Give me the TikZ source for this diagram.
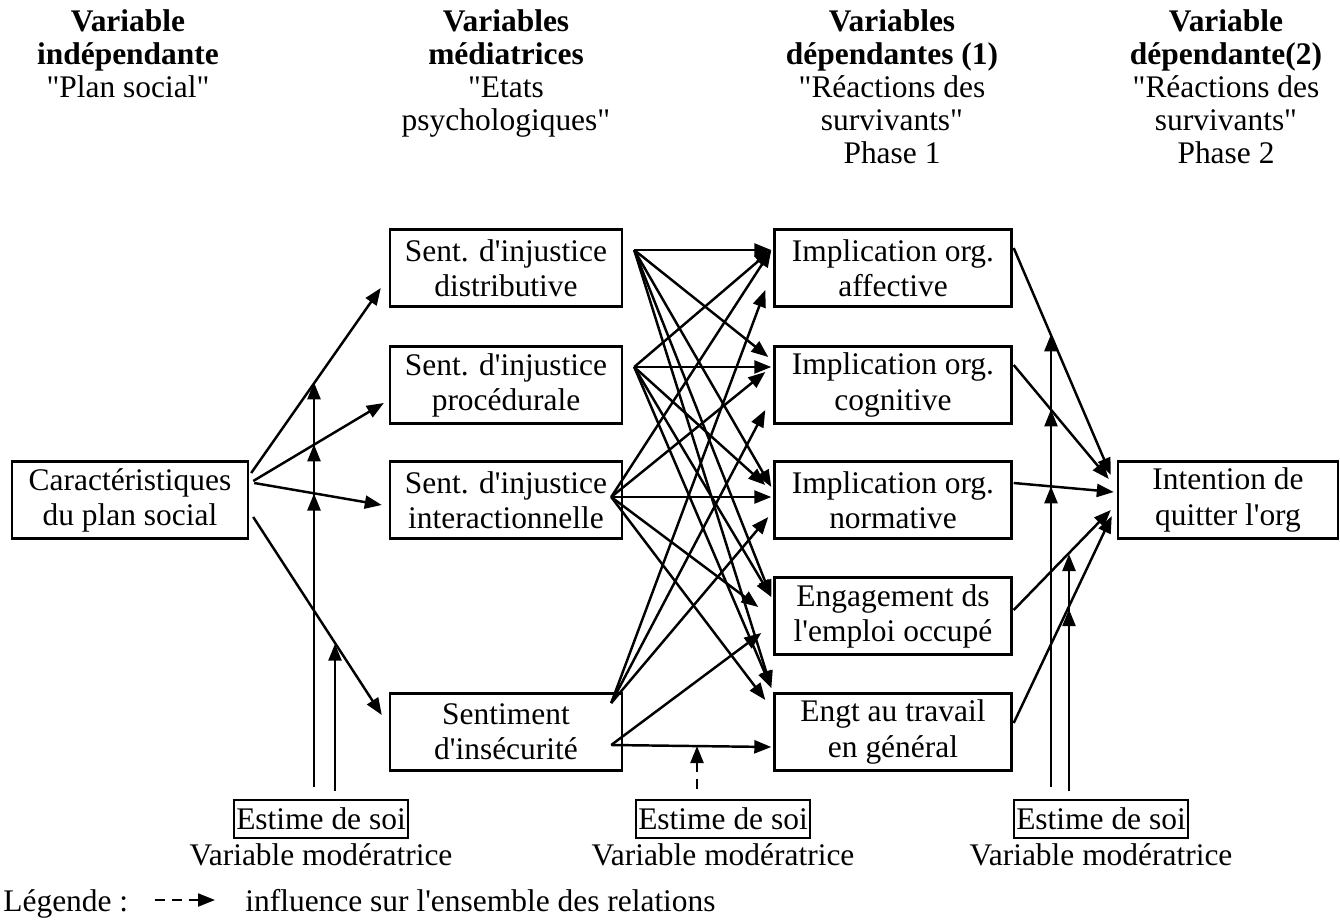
\documentclass[tikz,border=0pt]{standalone}
\usepackage{fontspec}
\setmainfont{Liberation Serif}[Ligatures=TeXOff]
\usetikzlibrary{arrows.meta,positioning,calc}

\begin{document}
\begin{tikzpicture}[x=0.02cm,y=-0.02cm,
    font=\fontsize{17.9}{20}\selectfont,
    box/.style={draw,line width=1.4pt,align=center,inner sep=0pt,minimum height=1.54cm},
    modbox/.style={draw,line width=1.2pt,inner xsep=1.5pt,inner ysep=0pt,minimum height=0.76cm},
    head/.style={align=center,anchor=north,inner sep=0pt,font=\fontsize{17.9}{18.8}\selectfont},
    arr/.style={line width=1.4pt,-{Triangle[length=0.34cm,width=0.26cm]}},
    dasharr/.style={arr,dash pattern=on 0.2cm off 0.14cm}]
\useasboundingbox (0,0) rectangle (1340,920);

% column titles
\node[head] (h1) at (128,9) {\textbf{Variable}\\\textbf{indépendante}\\"Plan social"};
\node[head] (h2) at (506,9) {\textbf{Variables}\\\textbf{médiatrices}\\"Etats\\psychologiques"};
\node[head] (h3) at (892,9) {\textbf{Variables}\\\textbf{dépendantes (1)}\\"Réactions des\\survivants"\\Phase 1};
\node[head] (h4) at (1226,9) {\textbf{Variable}\\\textbf{dépendante(2)}\\"Réactions des\\survivants"\\Phase 2};

% boxes
\node[box,minimum width=4.72cm] (caract) at (130,500) {Caractéristiques\\du plan social};
\node[box,minimum width=4.64cm] (dist) at (506,268) {Sent. d'injustice\\distributive};
\node[box,minimum width=4.64cm] (proc) at (506,385) {Sent. d'injustice\\procédurale};
\node[box,minimum width=4.64cm] (inter) at (506,500) {Sent. d'injustice\\interactionnelle};
\node[box,minimum width=4.64cm] (insec) at (506,732) {Sentiment\\d'insécurité};
\node[box,minimum width=4.74cm] (aff) at (893,268) {Implication org.\\affective};
\node[box,minimum width=4.74cm] (cog) at (893,385) {Implication org.\\cognitive};
\node[box,minimum width=4.74cm] (norm) at (893,500) {Implication org.\\normative};
\node[box,minimum width=4.74cm] (eng) at (893,616) {Engagement ds\\l'emploi occupé};
\node[box,minimum width=4.74cm] (engt) at (893,732) {Engt au travail\\en général};
\node[box,minimum width=4.4cm] (quit) at (1228,500) {Intention de\\quitter l'org};

% moderators
\node[modbox] (est1) at (321,819) {Estime de soi};
\node[below=0.08cm of est1,inner sep=0pt] (var1) {Variable modératrice};
\node[modbox] (est2) at (723,819) {Estime de soi};
\node[below=0.08cm of est2,inner sep=0pt] (var2) {Variable modératrice};
\node[modbox] (est3) at (1101,819) {Estime de soi};
\node[below=0.08cm of est3,inner sep=0pt] (var3) {Variable modératrice};

% legend
\node[anchor=base west,inner sep=0pt] (leg) at (3,911) {Légende :};
\node[anchor=base west,inner sep=0pt] (infl) at (245,911) {influence sur l'ensemble des relations};
\draw[dasharr,line width=1.2pt,shorten <=0.52cm,shorten >=0.6cm] ([yshift=0.22cm]leg.base east) -- ([yshift=0.22cm]infl.base west);

% plan social -> etats
\draw[arr] ($(caract.east)+(2,-27)$) -- ($(dist.west)+(-8,20)$) coordinate[pos=0.49] (c1);
\draw[arr] ($(caract.east)+(4,-19)$) -- ($(proc.west)+(-5,18)$) coordinate[pos=0.47] (c2);
\draw[arr] ($(caract.east)+(5,-17)$) -- ($(inter.west)+(-7,5)$) coordinate[pos=0.48] (c3);
\draw[arr] ($(caract.east)+(4,17)$) -- ($(insec.west)+(-7,-17)$) coordinate[pos=0.64] (c4);

% etats -> reactions phase 1
\coordinate (dist-o) at ($(dist.east)+(11,-18)$);
\coordinate (proc-o) at ($(proc.east)+(11,-18)$);
\coordinate (inter-o) at ($(inter.east)+(-12,-3)$);
\coordinate (insec-o1) at ($(insec.east)+(-12,-29)$);
\coordinate (insec-o2) at ($(insec.east)+(-12,13)$);
\draw[arr] (dist-o) -- ($(aff.west)+(-2,-18)$);
\draw[arr] (dist-o) -- ($(cog.west)+(-5,-28)$);
\draw[arr] (dist-o) -- ($(norm.west)+(-2,-13)$);
\draw[arr] (dist-o) -- ($(eng.west)+(-2,-19)$);
\draw[arr] (dist-o) -- ($(engt.west)+(-2,-44)$);
\draw[arr] (proc-o) -- ($(aff.west)+(-2,-18)$);
\draw[arr] (proc-o) -- ($(cog.west)+(-2,-18)$);
\draw[arr] (proc-o) -- ($(norm.west)+(-8,-15)$);
\draw[arr] (proc-o) -- ($(eng.west)+(-2,-19)$);
\draw[arr] (proc-o) -- ($(engt.west)+(-2,-44)$);
\draw[arr] (inter-o) -- ($(aff.west)+(-2,-18)$);
\draw[arr] (inter-o) -- ($(cog.west)+(-8,-13)$);
\draw[arr] (inter-o) -- ($(norm.west)+(-2,-3)$);
\draw[arr] (inter-o) -- ($(eng.west)+(-15,-9)$);
\draw[arr] (inter-o) -- ($(engt.west)+(-8,-32)$);
\draw[arr] (insec-o1) -- ($(aff.west)+(-8,22)$);
\draw[arr] (insec-o1) -- ($(cog.west)+(-8,25)$);
\draw[arr] (insec-o1) -- ($(norm.west)+(-5,17)$);
\draw[arr] (insec-o2) -- ($(eng.west)+(-12,17)$);
\draw[arr] (insec-o2) -- ($(engt.west)+(-2,15)$) coordinate[pos=0.53] (c5);

% phase 1 -> phase 2
\draw[arr] ($(aff.east)+(1,-20)$) -- ($(quit.west)+(-6,-25)$) coordinate[pos=0.38] (r1);
\draw[arr] ($(cog.east)+(1,-20)$) -- ($(quit.west)+(-8,-21)$) coordinate[pos=0.39] (r2);
\draw[arr] ($(norm.east)+(1,-17)$) -- ($(quit.west)+(-3,-8)$) coordinate[pos=0.37] (r3);
\draw[arr] ($(eng.east)+(1,-6)$) -- ($(quit.west)+(-6,10)$) coordinate[pos=0.56] (r4);
\draw[arr] ($(engt.east)+(1,-9)$) -- ($(quit.west)+(-5,16)$) coordinate[pos=0.55] (r5);

% moderating effects
\coordinate (m1) at ($(est1.north)+(-7,-12)$);
\coordinate (m2) at ($(est1.north)+(14,-8)$);
\draw[arr] (m1) -- (m1 |- c1);
\draw[arr] (m1) -- (m1 |- c2);
\draw[arr] (m1) -- (m1 |- c3);
\draw[arr] (m2) -- (m2 |- c4);
\coordinate (m3) at ($(est2.north)+(-26,-10)$);
\draw[dasharr] (m3) -- (m3 |- c5);
\coordinate (m4) at ($(est3.north)+(-50,-12)$);
\coordinate (m5) at ($(est3.north)+(-32,-8)$);
\draw[arr] (m4) -- (m4 |- r1);
\draw[arr] (m4) -- (m4 |- r2);
\draw[arr] (m4) -- (m4 |- r3);
\draw[arr] (m5) -- (m5 |- r4);
\draw[arr] (m5) -- (m5 |- r5);
\end{tikzpicture}
\end{document}
